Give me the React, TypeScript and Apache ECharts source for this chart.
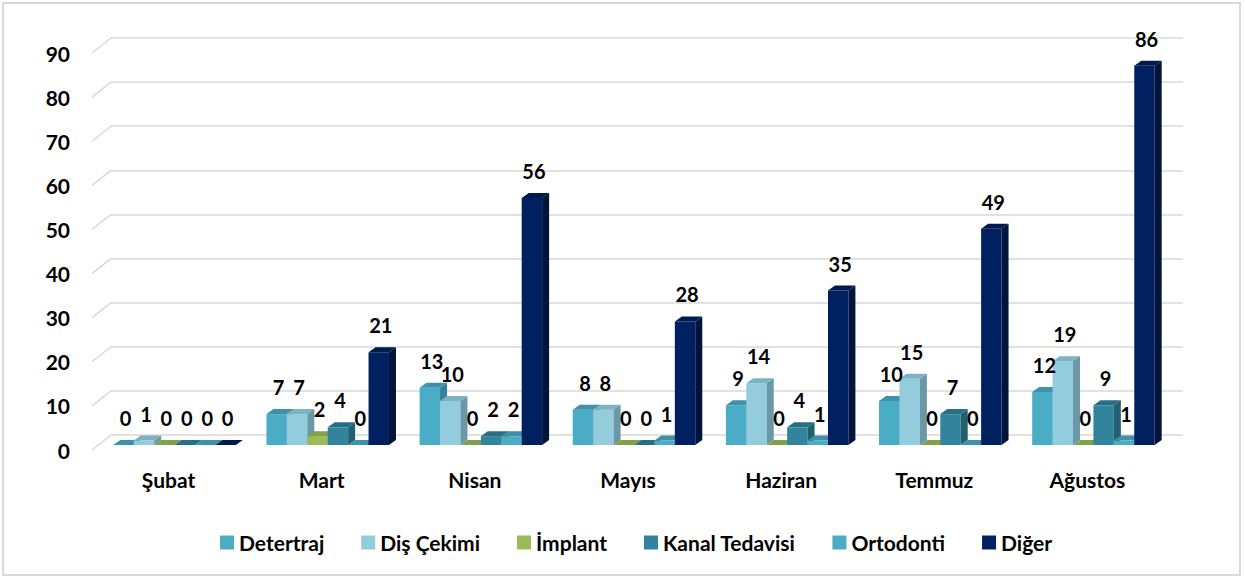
import React, { useEffect, useRef } from 'react';
import * as echarts from 'echarts';

const months = ['Şubat', 'Mart', 'Nisan', 'Mayıs', 'Haziran', 'Temmuz', 'Ağustos'];
const seriesNames = ['Detertraj', 'Diş Çekimi', 'İmplant', 'Kanal Tedavisi', 'Ortodonti', 'Diğer'];
const detertraj = [0, 7, 13, 8, 9, 10, 12];
const disCekimi = [1, 7, 10, 8, 14, 15, 19];
const implant = [0, 2, 0, 0, 0, 0, 0];
const kanalTedavisi = [0, 4, 2, 0, 4, 7, 9];
const ortodonti = [0, 0, 2, 1, 1, 0, 1];
const diger = [0, 21, 56, 28, 35, 49, 86];
const yTicks = [0, 10, 20, 30, 40, 50, 60, 70, 80, 90];

const FRONT = ['#4bacc6', '#93cddd', '#9bbb59', '#31849b', '#4bacc6', '#002060'];
const TOP = ['#3d91a8', '#7fb2c0', '#83a04a', '#276f83', '#3d91a8', '#001a50'];
const SIDE = ['#35809a', '#6a98a6', '#71893f', '#225f70', '#35809a', '#00143c'];

const FONT = 'Lato, "Open Sans", sans-serif';
const DX = 7;
const DY = 5;
const SHIFT_X = 6;
const SHIFT_Y = 5;
const WALL_DX = 19;
const WALL_DY = 15;

export default function App() {
  const ref = useRef<HTMLDivElement>(null);
  useEffect(() => {
    const chart = echarts.init(ref.current as HTMLDivElement, null, { renderer: 'svg' });
    const values = [detertraj, disCekimi, implant, kanalTedavisi, ortodonti, diger];
    const n = values.length;
    const barSeries = values.map((vals, si) => ({
      type: 'custom',
      name: seriesNames[si],
      xAxisIndex: 0,
      yAxisIndex: 0,
      itemStyle: { color: FRONT[si] },
      data: vals.map((v, i) => [i, v]),
      renderItem: (params: any, api: any) => {
        const ci = api.value(0);
        const v = api.value(1);
        const base = api.coord([ci, 0]);
        const topP = api.coord([ci, v]);
        const band = api.size([1, 0])[0];
        const groupW = band * 0.8;
        const bw = groupW / n;
        const x0 = base[0] - groupW / 2 + si * bw + SHIFT_X;
        const x1 = x0 + bw;
        const yb = base[1] - SHIFT_Y;
        const yt = topP[1] - SHIFT_Y;
        return {
          type: 'group',
          children: [
            { type: 'rect', shape: { x: x0, y: yt, width: bw, height: yb - yt }, style: { fill: FRONT[si] } },
            {
              type: 'polygon',
              shape: { points: [[x0, yt], [x1, yt], [x1 + DX, yt - DY], [x0 + DX, yt - DY]] },
              style: { fill: TOP[si] },
            },
            {
              type: 'polygon',
              shape: { points: [[x1, yt], [x1 + DX, yt - DY], [x1 + DX, yb - DY], [x1, yb]] },
              style: { fill: SIDE[si] },
            },
            {
              type: 'text',
              z2: 100,
              x: x0 + bw / 2 + 2,
              y: yt - 27,
              style: {
                text: String(v),
                align: 'center',
                verticalAlign: 'middle',
                fill: '#000',
                font: `bold 20px ${FONT}`,
              },
            },
          ],
        };
      },
    }));

    const wallSeries = {
      type: 'custom',
      xAxisIndex: 0,
      yAxisIndex: 0,
      silent: true,
      data: yTicks.map((t) => [0, t]),
      renderItem: (params: any, api: any) => {
        const p = api.coord([0, api.value(1)]);
        const x = params.coordSys.x;
        return {
          type: 'line',
          shape: { x1: x, y1: p[1], x2: x + WALL_DX, y2: p[1] - WALL_DY },
          style: { stroke: '#d9d9d9', lineWidth: 1.5 },
        };
      },
    };

    chart.setOption({
      animation: false,
      backgroundColor: '#ffffff',
      textStyle: { fontFamily: FONT },
      grid: [
        { left: 92, width: 1072, top: 53, height: 397 },
        { left: 111, width: 1072, top: 38, height: 397 },
      ],
      xAxis: [
        {
          type: 'category',
          gridIndex: 0,
          data: months,
          axisLine: { show: false },
          axisTick: { show: false },
          axisLabel: { color: '#000', fontWeight: 'bold', fontSize: 21, fontFamily: FONT, margin: 19 },
        },
        { type: 'category', gridIndex: 1, data: months, show: false },
      ],
      yAxis: [
        {
          type: 'value',
          gridIndex: 0,
          min: 0,
          max: 90,
          interval: 10,
          splitLine: { show: false },
          axisLine: { show: false },
          axisTick: { show: false },
          axisLabel: { color: '#000', fontWeight: 'bold', fontSize: 21, fontFamily: FONT, margin: 22 },
        },
        {
          type: 'value',
          gridIndex: 1,
          min: 0,
          max: 90,
          interval: 10,
          axisLine: { show: false },
          axisTick: { show: false },
          axisLabel: { show: false },
          splitLine: { show: true, lineStyle: { color: '#d9d9d9', width: 1.5 } },
        },
      ],
      legend: {
        data: seriesNames,
        left: 215,
        top: 527,
        icon: 'rect',
        itemWidth: 14,
        itemHeight: 14,
        itemGap: 37,
        textStyle: { color: '#000', fontWeight: 'bold', fontSize: 21, fontFamily: FONT },
      },
      graphic: [
        {
          type: 'rect',
          silent: true,
          shape: { x: 3, y: 3, width: 1237, height: 572 },
          style: { fill: 'none', stroke: '#d9d9d9', lineWidth: 2 },
        },
      ],
      series: [wallSeries, ...barSeries],
    });
    return () => chart.dispose();
  }, []);
  return <div ref={ref} style={{ position: 'fixed', left: 0, top: 0, width: 1245, height: 578 }} />;
}
